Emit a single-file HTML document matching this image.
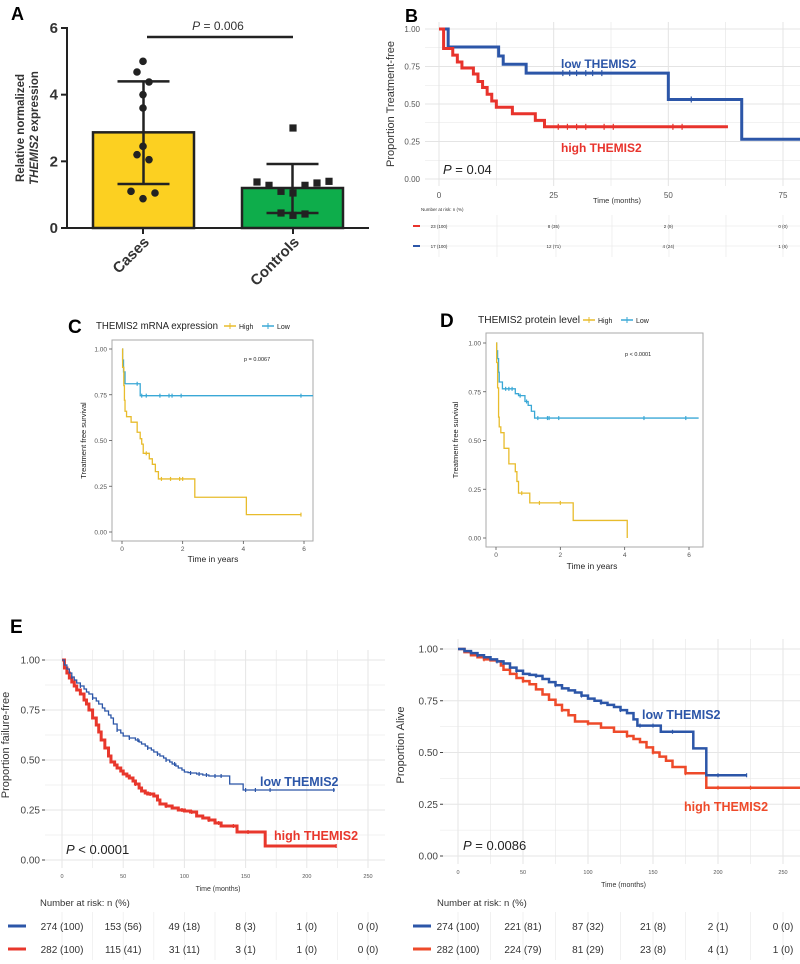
<!DOCTYPE html>
<html><head><meta charset="utf-8"><style>
html,body{margin:0;padding:0;background:#fff}
svg{display:block;font-family:"Liberation Sans",sans-serif}
</style></head><body>
<svg id="fig" width="800" height="964" viewBox="0 0 800 964" xmlns="http://www.w3.org/2000/svg">
<g id="gA"></g>
<g id="gB"></g>
<g id="gC"></g>
<g id="gD"></g>
<g id="gE1"></g>
<g id="gE2"></g>
</svg>
<script>
// ---------- Data ----------
// Panel A
const aCats = ["Cases","Controls"];
const aMeans = [2.87, 1.2];
const aSdLow = [1.32, 0.45];
const aSdHigh = [4.4, 1.92];
const aCasePts = [5.0,4.68,4.38,4.0,3.6,2.45,2.2,2.05,1.1,0.88,1.05];
const aCaseJit = [0,-1,1,0,0,0,-1,1,-2,0,2];
const aCtrlPts = [3.0,1.38,1.28,1.1,1.05,1.28,1.35,1.4,0.45,0.38,0.42];
const aCtrlJit = [0,-3,-2,-1,0,1,2,3,-1,0,1];
const aTicks = [0,2,4,6];
// Panel B
const bLowT = [0,2,13,14,19,50,66];
const bLowS = [1,0.88,0.82,0.765,0.706,0.53,0.265];
const bLowEnd = 80;
const bLowCens = [27,28.5,30,32,33.5,35.5,55];
const bHighT = [0,1,3,4,5,7.5,8.5,9.5,10.5,11.5,12.5,16,21,23];
const bHighS = [1,0.87,0.826,0.78,0.74,0.70,0.65,0.61,0.565,0.52,0.478,0.435,0.391,0.348];
const bHighEnd = 63;
const bHighCens = [26,28,30,32,36,38,51,53];
const bXTicks = [0,25,50,75];
const bYTicks = [0,0.25,0.5,0.75,1];
const bRiskHigh = ["23 (100)","8 (35)","2 (9)","0 (0)"];
const bRiskLow = ["17 (100)","12 (71)","4 (24)","1 (6)"];
// Panel C
const cLowT = [0,0.02,0.05,0.1,0.6];
const cLowS = [1,0.94,0.875,0.81,0.745];
const cLowEnd = 6.3;
const cLowCens = [0.5,0.65,0.8,1.25,1.55,1.65,1.95,5.9];
const cHighT = [0,0.02,0.06,0.08,0.1,0.15,0.3,0.5,0.6,0.65,0.7,0.9,1.0,1.1,1.2,2.4,4.1];
const cHighS = [1,0.9,0.8,0.72,0.66,0.63,0.6,0.545,0.51,0.48,0.43,0.4,0.37,0.33,0.29,0.19,0.095];
const cHighEnd = 5.9;
const cHighCens = [0.8,1.3,1.6,1.9,2.0,5.9];
// Panel D
const dLowT = [0,0.02,0.05,0.08,0.1,0.2,0.6,0.7,0.9,1.0,1.1,1.2];
const dLowS = [1,0.96,0.92,0.85,0.8,0.765,0.74,0.73,0.7,0.68,0.65,0.615];
const dLowEnd = 6.3;
const dLowCens = [0.3,0.4,0.5,0.75,0.95,1.3,1.6,1.65,1.95,4.6,5.9];
const dHighT = [0,0.02,0.05,0.08,0.1,0.15,0.25,0.4,0.6,0.65,0.7,1.05,2.4,4.08];
const dHighS = [1,0.9,0.77,0.62,0.57,0.54,0.46,0.38,0.34,0.29,0.23,0.18,0.09,0];
const dHighEnd = 4.08;
const dHighCens = [0.8,1.35,2.0];
const cdXTicks = [0,2,4,6];
const cdYTicks = [0,0.25,0.5,0.75,1];
// Panel E left (failure-free)
const e1LowT = [0,2,4,6,8,10,12,15,18,20,22,25,28,30,33,35,38,40,42,45,48,50,55,60,63,65,68,70,73,75,78,80,83,85,88,90,93,95,98,100,103,105,110,115,120,135,137,147,148];
const e1LowS = [1,0.975,0.955,0.935,0.915,0.9,0.885,0.87,0.855,0.84,0.83,0.81,0.795,0.78,0.76,0.745,0.725,0.71,0.68,0.65,0.635,0.62,0.61,0.6,0.59,0.58,0.57,0.56,0.55,0.54,0.53,0.52,0.51,0.5,0.49,0.48,0.47,0.46,0.45,0.44,0.437,0.435,0.43,0.425,0.42,0.42,0.38,0.38,0.35];
const e1LowEnd = 223;
const e1HighT = [0,2,4,6,8,10,12,15,18,20,22,25,28,30,32,35,38,40,43,45,48,50,53,55,58,60,63,65,68,70,75,78,80,85,90,95,100,105,110,115,120,125,130,143,165,166];
const e1HighS = [1,0.96,0.935,0.91,0.89,0.87,0.85,0.83,0.8,0.78,0.75,0.71,0.675,0.64,0.6,0.56,0.52,0.49,0.475,0.46,0.445,0.43,0.42,0.41,0.395,0.38,0.36,0.345,0.335,0.33,0.32,0.3,0.28,0.27,0.26,0.25,0.245,0.24,0.22,0.21,0.2,0.185,0.17,0.14,0.14,0.07];
const e1HighEnd = 224;
const e1LowCens = [8,15,25,45,55,62,70,78,85,92,105,112,118,125,130,150,158,170,222];
const e1HighCens = [60,72,85,98,106,120,128,140,152,224];
const e1RiskLow = ["274 (100)","153 (56)","49 (18)","8 (3)","1 (0)","0 (0)"];
const e1RiskHigh = ["282 (100)","115 (41)","31 (11)","3 (1)","1 (0)","0 (0)"];
// Panel E right (alive)
const e2LowT = [0,5,10,15,20,25,30,35,40,45,50,55,60,65,70,75,80,85,90,95,100,105,110,115,120,125,130,135,138,155,156,180,181,190,191];
const e2LowS = [1,0.99,0.98,0.97,0.96,0.95,0.94,0.93,0.91,0.895,0.88,0.875,0.87,0.855,0.84,0.825,0.81,0.8,0.79,0.775,0.76,0.75,0.74,0.73,0.72,0.705,0.69,0.66,0.63,0.63,0.6,0.6,0.52,0.52,0.39];
const e2LowEnd = 222;
const e2HighT = [0,5,10,15,20,25,30,33,35,40,45,50,55,60,65,70,75,80,85,90,100,110,120,130,135,140,145,150,155,160,165,175,190,191];
const e2HighS = [1,0.985,0.97,0.96,0.95,0.945,0.94,0.92,0.9,0.88,0.86,0.845,0.83,0.805,0.78,0.755,0.73,0.705,0.68,0.65,0.64,0.62,0.6,0.58,0.565,0.55,0.525,0.5,0.48,0.46,0.43,0.4,0.4,0.33];
const e2HighEnd = 265;
const e2LowCens = [15,30,45,60,75,95,110,125,140,150,165,200,222];
const e2HighCens = [20,50,80,100,130,150,175,200,225];
const e2RiskLow = ["274 (100)","221 (81)","87 (32)","21 (8)","2 (1)","0 (0)"];
const e2RiskHigh = ["282 (100)","224 (79)","81 (29)","23 (8)","4 (1)","1 (0)"];
const eXTicks = [0,50,100,150,200,250];
const eYTicks = [0,0.25,0.5,0.75,1];

// ---------- helpers ----------
const NS = "http://www.w3.org/2000/svg";
function mk(parent, tag, attrs, text){
  const e = document.createElementNS(NS, tag);
  for (const k in attrs) e.setAttribute(k, attrs[k]);
  if (text !== undefined) e.textContent = text;
  parent.appendChild(e);
  return e;
}
function lin(d0,d1,r0,r1){ return v => r0 + (v-d0)*(r1-r0)/(d1-d0); }
function stepPath(T,S,end,sx,sy){
  let d = "M"+sx(T[0])+","+sy(S[0]);
  for (let i=1;i<T.length;i++){ d += " H"+sx(T[i])+" V"+sy(S[i]); }
  d += " H"+sx(end);
  return d;
}
function survAt(T,S,t){ let v=S[0]; for (let i=0;i<T.length;i++){ if (T[i]<=t) v=S[i]; } return v; }
function drawKM(g, T, S, end, cens, sx, sy, color, w, name, tick){
  const p = mk(g, "path", {d: stepPath(T,S,end,sx,sy), fill:"none", stroke:color, "stroke-width":w});
  
  
  cens.forEach(t=>{
    const x = sx(t), y = sy(survAt(T,S,t));
    const c = mk(g, "line", {x1:x, x2:x, y1:y-tick, y2:y+tick, stroke:color, "stroke-width":1.2});
    
    
  });
}
function txt(g, x, y, s, attrs, name){
  const t = mk(g, "text", Object.assign({x:x, y:y}, attrs||{}), s);
  
  
  return t;
}
function ln(g,x1,y1,x2,y2,stroke,w,name){
  const l = mk(g,"line",{x1:x1,y1:y1,x2:x2,y2:y2,stroke:stroke,"stroke-width":w});
  
  
  return l;
}

// ---------- Panel A ----------
(function(){
  const g = document.getElementById("gA");
  const y = lin(0,6,228,28);
  const bx = [93,242], bw = 101;
  const colors = ["#fcd021","#0ead4b"];
  txt(g, 11, 20, "A", {"font-size":18,"font-weight":"bold"}, "panel-label-a");
  for (let i=0;i<aCats.length;i++){
    const r = mk(g,"rect",{x:bx[i], y:y(aMeans[i]), width:bw, height:y(0)-y(aMeans[i]), fill:colors[i], stroke:"#222","stroke-width":2.5});
    
    
    const cx = bx[i]+bw/2;
    ln(g,cx,y(aSdLow[i]),cx,y(aSdHigh[i]),"#222",2.5,"error-bar-"+aCats[i].toLowerCase());
    ln(g,cx-26,y(aSdLow[i]),cx+26,y(aSdLow[i]),"#222",2.5,"error-cap-low");
    ln(g,cx-26,y(aSdHigh[i]),cx+26,y(aSdHigh[i]),"#222",2.5,"error-cap-high");
  }
  aCasePts.forEach((v,i)=>{
    const c = mk(g,"circle",{cx:143+aCaseJit[i]*6, cy:y(v), r:3.8, fill:"#222"});
    
    
  });
  aCtrlPts.forEach((v,i)=>{
    const r = mk(g,"rect",{x:293+aCtrlJit[i]*12-3.6, y:y(v)-3.6, width:7.2, height:7.2, fill:"#222"});
    
    
  });
  ln(g,67,y(6)-1,67,229,"#222",2,"y-axis");
  ln(g,66,228,369,228,"#222",2,"x-axis");
  aTicks.forEach(t=>{
    ln(g,61,y(t),67,y(t),"#222",2,"y-tick");
    txt(g,58,y(t)+5,String(t),{"font-size":15,"font-weight":"bold","text-anchor":"end",fill:"#333"},"y-tick-label");
  });
  [143,293].forEach(x=>ln(g,x,228,x,234,"#222",2,"x-tick"));
  txt(g,0,0,"Cases",{"font-size":15,"font-weight":"bold","text-anchor":"end",transform:"translate(150,243) rotate(-45)",fill:"#333"},"x-label-cases");
  txt(g,0,0,"Controls",{"font-size":15,"font-weight":"bold","text-anchor":"end",transform:"translate(300,243) rotate(-45)",fill:"#333"},"x-label-controls");
  const yt = txt(g,0,0,"",{"font-size":11.5,"font-weight":"bold","text-anchor":"middle",transform:"translate(24,128) rotate(-90)",fill:"#333"},"y-axis-title");
  mk(yt,"tspan",{x:0,dy:0},"Relative normalized");
  const t2 = mk(yt,"tspan",{x:0,dy:14});
  mk(t2,"tspan",{"font-style":"italic"},"THEMIS2");
  mk(t2,"tspan",{}," expression");
  ln(g,147,37,293,37,"#222",2.5,"significance-bar");
  const pt = txt(g,218,30,"",{"font-size":12,"text-anchor":"middle",fill:"#333"},"p-value-a");
  mk(pt,"tspan",{"font-style":"italic"},"P");
  mk(pt,"tspan",{}," = 0.006");
})();

// ---------- Panel B ----------
(function(){
  const g = document.getElementById("gB");
  const x = lin(0,75,439,783), y = lin(0,1,179,29);
  txt(g,405,22,"B",{"font-size":18,"font-weight":"bold"},"panel-label-b");
  for (let v=0; v<=1.0001; v+=0.125) ln(g,425,y(v),800,y(v),"#e4e4e4",v*8%2===0?1:0.6,"grid-h");
  for (let t=0; t<=85; t+=12.5) ln(g,x(t),22,x(t),186,"#e4e4e4",t%25===0?1:0.6,"grid-v");
  bYTicks.forEach(v=>txt(g,420,y(v)+3,v.toFixed(2),{"font-size":8,"text-anchor":"end",fill:"#555"},"y-tick-label"));
  bXTicks.forEach(t=>txt(g,x(t),198,String(t),{"font-size":8,"text-anchor":"middle",fill:"#555"},"x-tick-label"));
  txt(g,617,203,"Time (months)",{"font-size":7.5,"text-anchor":"middle",fill:"#333"},"x-axis-title");
  txt(g,0,0,"Proportion Treatment-free",{"font-size":11,"text-anchor":"middle",transform:"translate(394,104) rotate(-90)",fill:"#333"},"y-axis-title");
  drawKM(g,bLowT,bLowS,bLowEnd,bLowCens,x,y,"#2c56a8",3,"low-themis2",3);
  drawKM(g,bHighT,bHighS,bHighEnd,bHighCens,x,y,"#e8332c",3,"high-themis2",3);
  txt(g,561,68,"low THEMIS2",{"font-size":12,"font-weight":"bold",fill:"#2c56a8"},"label-low");
  txt(g,561,152,"high THEMIS2",{"font-size":12,"font-weight":"bold",fill:"#e8332c"},"label-high");
  const p = txt(g,443,174,"",{"font-size":13,fill:"#222"},"p-value-b");
  mk(p,"tspan",{"font-style":"italic"},"P");
  mk(p,"tspan",{}," = 0.04");
  txt(g,421,211,"Number at risk: n (%)",{"font-size":4.5,fill:"#333"},"risk-title");
  [439,497,556,612,669,726,783].forEach(xx=>ln(g,xx,215,xx,257,"#ececec",0.8,"risk-grid"));
  ln(g,415,226,800,226,"#ececec",0.8,"risk-grid");
  ln(g,415,246,800,246,"#ececec",0.8,"risk-grid");
  ln(g,413,226,420,226,"#e8332c",2,"risk-legend-high");
  ln(g,413,246,420,246,"#2c56a8",2,"risk-legend-low");
  bRiskHigh.forEach((s,i)=>txt(g,x(bXTicks[i]),228,s,{"font-size":4.5,"text-anchor":"middle",fill:"#333"},"risk-high-value"));
  bRiskLow.forEach((s,i)=>txt(g,x(bXTicks[i]),248,s,{"font-size":4.5,"text-anchor":"middle",fill:"#333"},"risk-low-value"));
})();

// ---------- Panels C & D ----------
function drawCD(id, lab, labX, labY, title, titleX, titleLen, legX, box, x, y, pText, pX, pY, xtX, xtY, yTitleX, lowT,lowS,lowEnd,lowCens,highT,highS,highEnd,highCens){
  const g = document.getElementById(id);
  txt(g,labX,labY,lab,{"font-size":19,"font-weight":"bold"},"panel-label-"+lab.toLowerCase());
  txt(g,titleX,labY-4,title,{"font-size":10.5,fill:"#222",textLength:titleLen,lengthAdjust:"spacingAndGlyphs"},"legend-title");
  ln(g,legX,labY-7,legX+12,labY-7,"#e8bc2c",1.5,"legend-high-line");
  ln(g,legX+6,labY-10,legX+6,labY-4,"#e8bc2c",1,"legend-high-mark");
  txt(g,legX+15,labY-4,"High",{"font-size":7,fill:"#222"},"legend-high-text");
  ln(g,legX+38,labY-7,legX+50,labY-7,"#3aa8d6",1.5,"legend-low-line");
  ln(g,legX+44,labY-10,legX+44,labY-4,"#3aa8d6",1,"legend-low-mark");
  txt(g,legX+53,labY-4,"Low",{"font-size":7,fill:"#222"},"legend-low-text");
  const r = mk(g,"rect",{x:box[0],y:box[1],width:box[2]-box[0],height:box[3]-box[1],fill:"none",stroke:"#aaa","stroke-width":1});
  
  
  cdYTicks.forEach(v=>{
    ln(g,box[0]-3,y(v),box[0],y(v),"#555",0.8,"y-tick");
    txt(g,box[0]-5,y(v)+2.5,v.toFixed(2),{"font-size":6.5,"text-anchor":"end",fill:"#555"},"y-tick-label");
  });
  cdXTicks.forEach(t=>{
    ln(g,x(t),box[3],x(t),box[3]+3,"#555",0.8,"x-tick");
    txt(g,x(t),box[3]+10,String(t),{"font-size":6.5,"text-anchor":"middle",fill:"#555"},"x-tick-label");
  });
  txt(g,xtX,xtY,"Time in years",{"font-size":8.5,"text-anchor":"middle",fill:"#222"},"x-axis-title");
  txt(g,0,0,"Treatment free survival",{"font-size":7.5,"text-anchor":"middle",transform:"translate("+yTitleX+","+((box[1]+box[3])/2)+") rotate(-90)",fill:"#222"},"y-axis-title");
  txt(g,pX,pY,pText,{"font-size":5.5,fill:"#222"},"p-value-"+lab.toLowerCase());
  const clip = mk(g,"clipPath",{id:"clip"+id});
  mk(clip,"rect",{x:box[0],y:box[1],width:box[2]-box[0],height:box[3]-box[1]});
  const cg = mk(g,"g",{"clip-path":"url(#clip"+id+")"});
  
  
  drawKM(cg,lowT,lowS,lowEnd,lowCens,x,y,"#3aa8d6",1.3,"low-group",2);
  drawKM(cg,highT,highS,highEnd,highCens,x,y,"#e8bc2c",1.3,"high-group",2);
}
drawCD("gC","C",68,333,"THEMIS2 mRNA expression",96,122,224,[112,340,313,541],lin(0,6,122,304),lin(0,1,532,349),"p = 0.0067",244,361,213,562,86,
  cLowT,cLowS,cLowEnd,cLowCens,cHighT,cHighS,cHighEnd,cHighCens);
drawCD("gD","D",440,327,"THEMIS2 protein level",478,102,583,[486,333,703,547],lin(0,6,496,689),lin(0,1,538,343),"p < 0.0001",625,356,592,569,458,
  dLowT,dLowS,dLowEnd,dLowCens,dHighT,dHighS,dHighEnd,dHighCens);

// ---------- Panel E ----------
function drawE(id, x, y, plotL, plotR, yTitle, yTitleX, ylabR, lowT,lowS,lowEnd,lowCens,highT,highS,highEnd,highCens, lowW, highW, redC, pText, pX, labLow, labHigh, riskLow, riskHigh, riskTitleX, dashX){
  const g = document.getElementById(id);
  for (let v=0; v<=1.0001; v+=0.125) ln(g,plotL,y(v),plotR,y(v),"#e6e6e6",Math.round(v*8)%2===0?1:0.6,"grid-h");
  for (let t=0; t<=270; t+=25){ if (x(t)<=plotR) ln(g,x(t),y(1)-10,x(t),y(0)+8,"#e6e6e6",t%50===0?1:0.6,"grid-v"); }
  eYTicks.forEach(v=>{
    ln(g,ylabR+2,y(v),ylabR+5,y(v),"#444",1,"y-tick");
    txt(g,ylabR,y(v)+3.5,v.toFixed(2),{"font-size":10,"text-anchor":"end",fill:"#444"},"y-tick-label");
  });
  eXTicks.forEach(t=>txt(g,x(t),y(0)+18,String(t),{"font-size":5.5,"text-anchor":"middle",fill:"#555"},"x-tick-label"));
  txt(g,(x(0)+x(250))/2+3,y(0)+31,"Time (months)",{"font-size":7,"text-anchor":"middle",fill:"#333"},"x-axis-title");
  txt(g,0,0,yTitle,{"font-size":11,"text-anchor":"middle",transform:"translate("+yTitleX+",745) rotate(-90)",fill:"#333"},"y-axis-title");
  drawKM(g,highT,highS,highEnd,highCens,x,y,redC,highW,"high-themis2",2);
  drawKM(g,lowT,lowS,lowEnd,lowCens,x,y,"#2c56a8",lowW,"low-themis2",2);
  txt(g,labLow[0],labLow[1],"low THEMIS2",{"font-size":12.5,"font-weight":"bold",fill:"#2c56a8"},"label-low");
  txt(g,labHigh[0],labHigh[1],"high THEMIS2",{"font-size":12.5,"font-weight":"bold",fill:redC},"label-high");
  const p = txt(g,pX,y(0)-6,"",{"font-size":13,fill:"#222"},"p-value-e");
  mk(p,"tspan",{"font-style":"italic"},"P");
  mk(p,"tspan",{},pText);
  txt(g,riskTitleX,906,"Number at risk: n (%)",{"font-size":9.5,fill:"#333"},"risk-title");
  for (let t=0; t<=270; t+=25){ if (x(t)<=plotR) ln(g,x(t),912,x(t),960,"#eeeeee",0.8,"risk-grid"); }
  ln(g,dashX,926,dashX+18,926,"#2c56a8",3,"risk-legend-low");
  ln(g,dashX,949,dashX+18,949,redC,3,"risk-legend-high");
  riskLow.forEach((s,i)=>txt(g,x(eXTicks[i]),930,s,{"font-size":10,"text-anchor":"middle",fill:"#333"},"risk-low-value"));
  riskHigh.forEach((s,i)=>txt(g,x(eXTicks[i]),953,s,{"font-size":10,"text-anchor":"middle",fill:"#333"},"risk-high-value"));
}
(function(){
  const g = document.getElementById("gE1");
  txt(g,10,633,"E",{"font-size":19,"font-weight":"bold"},"panel-label-e");
})();
drawE("gE1", lin(0,250,62,368), lin(0,1,860,660), 45, 385, "Proportion failure-free", 9, 40,
  e1LowT,e1LowS,e1LowEnd,e1LowCens,e1HighT,e1HighS,e1HighEnd,e1HighCens, 1.3, 3, "#e8372c", " < 0.0001", 66,
  [260,786],[274,840], e1RiskLow, e1RiskHigh, 40, 8);
drawE("gE2", lin(0,250,458,783), lin(0,1,856,649), 440, 800, "Proportion Alive", 404, 438,
  e2LowT,e2LowS,e2LowEnd,e2LowCens,e2HighT,e2HighS,e2HighEnd,e2HighCens, 2.5, 2.5, "#ee4a2a", " = 0.0086", 463,
  [642,719],[684,811], e2RiskLow, e2RiskHigh, 437, 413);
</script>
</body></html>
